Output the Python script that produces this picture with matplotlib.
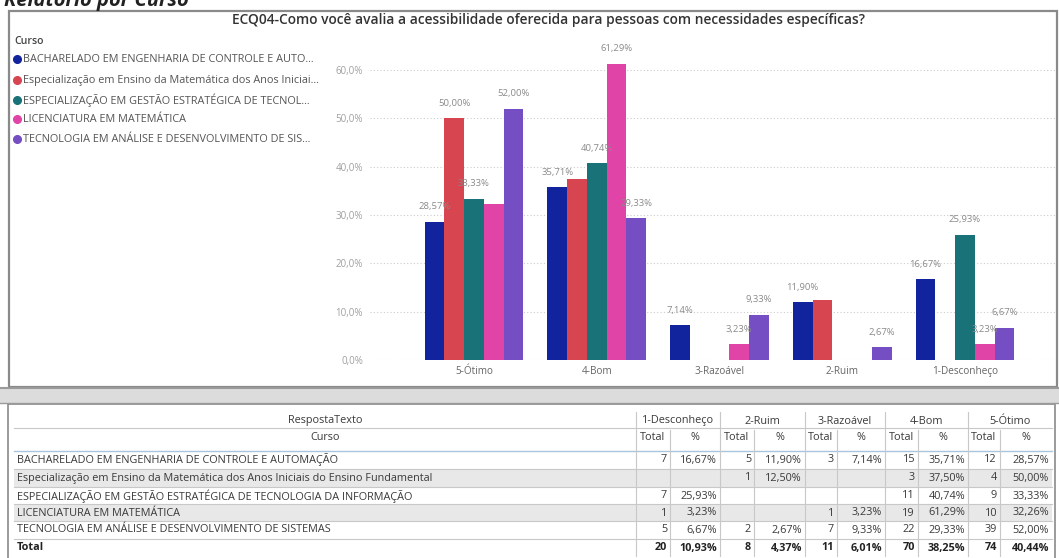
import matplotlib
matplotlib.use("Agg")
import matplotlib.pyplot as plt
from matplotlib.patches import Rectangle
import numpy as np

plt.rcParams['font.family'] = ['Open Sans', 'DejaVu Sans']

# ---------------- data ----------------
categories = ['5-Ótimo', '4-Bom', '3-Razoável', '2-Ruim', '1-Desconheço']
legend_labels = [
    'BACHARELADO EM ENGENHARIA DE CONTROLE E AUTO...',
    'Especialização em Ensino da Matemática dos Anos Iniciai...',
    'ESPECIALIZAÇÃO EM GESTÃO ESTRATÉGICA DE TECNOL...',
    'LICENCIATURA EM MATEMÁTICA',
    'TECNOLOGIA EM ANÁLISE E DESENVOLVIMENTO DE SIS...',
]
cursos = [
    'BACHARELADO EM ENGENHARIA DE CONTROLE E AUTOMAÇÃO',
    'Especialização em Ensino da Matemática dos Anos Iniciais do Ensino Fundamental',
    'ESPECIALIZAÇÃO EM GESTÃO ESTRATÉGICA DE TECNOLOGIA DA INFORMAÇÃO',
    'LICENCIATURA EM MATEMÁTICA',
    'TECNOLOGIA EM ANÁLISE E DESENVOLVIMENTO DE SISTEMAS',
]
colors = ['#12239E', '#D64550', '#197278', '#E044A7', '#744EC2']

# percentages in chart order (5-Ótimo ... 1-Desconheço)
pct_bach = [28.57, 35.71, 7.14, 11.90, 16.67]
pct_espens = [50.00, 37.50, 0, 12.50, 0]
pct_gestao = [33.33, 40.74, 0, 0, 25.93]
pct_lic = [32.26, 61.29, 3.23, 0, 3.23]
pct_tec = [52.00, 29.33, 9.33, 2.67, 6.67]
series = [pct_bach, pct_espens, pct_gestao, pct_lic, pct_tec]
# labels hidden by the chart (series index, category index)
hidden_labels = [(1, 1), (1, 3), (3, 0)]

# table (order 1-Desconheço ... 5-Ótimo)
table_cols = ['1-Desconheço', '2-Ruim', '3-Razoável', '4-Bom', '5-Ótimo']
cnt_bach = [7, 5, 3, 15, 12]
cnt_espens = [None, 1, None, 3, 4]
cnt_gestao = [7, None, None, 11, 9]
cnt_lic = [1, None, 1, 19, 10]
cnt_tec = [5, 2, 7, 22, 39]
counts = [cnt_bach, cnt_espens, cnt_gestao, cnt_lic, cnt_tec]
total_cnt = [20, 8, 11, 70, 74]
total_pct = [10.93, 4.37, 6.01, 38.25, 40.44]

title = 'ECQ04-Como você avalia a acessibilidade oferecida para pessoas com necessidades específicas?'

def fmt(v, d=2):
    return f'{v:.{d}f}'.replace('.', ',') + '%'

# ---------------- figure ----------------
W, H = 1059, 558
fig = plt.figure(figsize=(W / 100, H / 100), dpi=100)
fig.patch.set_facecolor('white')
bg = fig.add_axes([0, 0, 1, 1])
bg.set_xlim(0, W)
bg.set_ylim(H, 0)
bg.axis('off')

# page title (cropped at top, as in the screenshot)
bg.text(4, 1, 'Relatório por Curso', fontsize=14.5, fontweight='bold', style='italic',
        color='#222222', va='center', ha='left')

# chart panel border
bg.add_patch(Rectangle((9, 11), 1048, 376, fill=False, ec='#8a8a8a', lw=1.6))
# separator band
bg.add_patch(Rectangle((0, 388), W, 15, fc='#dcdcdc', ec='none'))
bg.plot([0, W], [388, 388], color='#9a9a9a', lw=1.5)
bg.plot([0, W], [403, 403], color='#9a9a9a', lw=1.0)

bg.text(549, 20, title, fontsize=9.9, fontweight='semibold', color='#333333',
        ha='center', va='center')

# legend
bg.text(14, 42, 'Curso', fontsize=7.6, fontweight='semibold', color='#444444',
        ha='left', va='center')
leg_y = [59, 80, 100, 119, 139]
for c, lab, y in zip(colors, legend_labels, leg_y):
    bg.plot([16.5], [y], marker='o', ms=5.5, color=c, mec=c)
    bg.text(23, y, lab, fontsize=7.8, color='#555555', ha='left', va='center')

# ---------------- bar chart ----------------
left_px, right_px, bot_px, top_px = 370, 1055, 360, 50
ax = fig.add_axes([left_px / W, (H - bot_px) / H, (right_px - left_px) / W,
                   (bot_px - top_px) / H])
ax.set_facecolor('none')
x = np.arange(len(categories))
spacing = 122.75
ax.set_xlim((left_px - 474) / spacing, 4 + (right_px - 965) / spacing)
ax.set_ylim(0, (bot_px - top_px) / 4.833)
bw = 0.161
for i, (vals, c) in enumerate(zip(series, colors)):
    pos = x + (i - 2) * bw
    ax.bar(pos, vals, width=bw, color=c, zorder=3)
    for j, v in enumerate(vals):
        if v > 0 and (i, j) not in hidden_labels:
            ax.text(pos[j], v + 3.1, fmt(v), fontsize=6.8, color='#8a8a8a',
                    ha='center', va='center', zorder=4, clip_on=False)
ax.set_yticks([0, 10, 20, 30, 40, 50, 60])
ax.set_yticklabels([fmt(t, 1) for t in [0, 10, 20, 30, 40, 50, 60]])
ax.set_xticks(x)
ax.set_xticklabels(categories)
ax.tick_params(axis='y', length=0, pad=5, labelsize=7.0, labelcolor='#a0a0a0')
ax.tick_params(axis='x', length=0, pad=4, labelsize=7.2, labelcolor='#666666')
ax.grid(axis='y', linestyle=(0, (1, 2)), color='#cccccc', lw=0.8, zorder=0)
for s in ax.spines.values():
    s.set_visible(False)

# ---------------- table ----------------
bg.add_patch(Rectangle((8, 404), 1047, 160, fill=False, ec='#8a8a8a', lw=1.2))
col_edges = [636, 720, 805, 885, 968, 1052]
col_div = [670, 754, 837, 918, 1000]
row_y = [460, 478, 496, 513, 530, 548]
row_lines = [469, 487, 504, 521, 539]
line_c = '#c8c8c8'
txt_c = '#3a3a3a'
fs = 7.8

# shaded rows
for k in (1, 3):
    bg.add_patch(Rectangle((14, row_lines[k - 1]), 1038, row_lines[k] - row_lines[k - 1],
                           fc='#e8e8e8', ec='none'))
# header
bg.text(325, 421, 'RespostaTexto', fontsize=fs, color=txt_c, ha='center', va='center')
bg.text(325, 438, 'Curso', fontsize=fs, color=txt_c, ha='center', va='center')
bg.plot([14, 1052], [428, 428], color=line_c, lw=0.8)
bg.plot([14, 1052], [451, 451], color='#a9c4de', lw=1.0)
for k, name in enumerate(table_cols):
    cx = (col_edges[k] + col_edges[k + 1]) / 2
    bg.text(cx, 421, name, fontsize=fs, color=txt_c, ha='center', va='center')
    bg.text((col_edges[k] + col_div[k]) / 2, 438, 'Total', fontsize=fs, color=txt_c,
            ha='center', va='center')
    bg.text((col_div[k] + col_edges[k + 1]) / 2, 438, '%', fontsize=fs, color=txt_c,
            ha='center', va='center')
for xe in col_edges[:-1]:
    bg.plot([xe, xe], [412, 556], color=line_c, lw=0.8)
for xd in col_div:
    bg.plot([xd, xd], [430, 556], color=line_c, lw=0.8)
for yl in row_lines:
    bg.plot([14, 1052], [yl, yl], color=line_c, lw=0.8)

pct_table = [vals[::-1] for vals in series]
for r in range(5):
    y = row_y[r]
    bg.text(17, y, cursos[r], fontsize=fs, color=txt_c, ha='left', va='center')
    for k in range(5):
        cnum = counts[r][k]
        if cnum is None:
            continue
        bg.text(col_div[k] - 3, y, str(cnum), fontsize=fs, color=txt_c,
                ha='right', va='center')
        bg.text(col_edges[k + 1] - 3, y, fmt(pct_table[r][k]), fontsize=fs,
                color=txt_c, ha='right', va='center')
# total row
y = row_y[5]
bg.text(17, y, 'Total', fontsize=fs, color='#222222', fontweight='bold', ha='left', va='center')
for k in range(5):
    bg.text(col_div[k] - 3, y, str(total_cnt[k]), fontsize=fs, color='#222222',
            fontweight='bold', ha='right', va='center')
    bg.text(col_edges[k + 1] - 3, y, fmt(total_pct[k]), fontsize=fs, color='#222222',
            fontweight='bold', ha='right', va='center')

fig.savefig('out.png', dpi=100)
